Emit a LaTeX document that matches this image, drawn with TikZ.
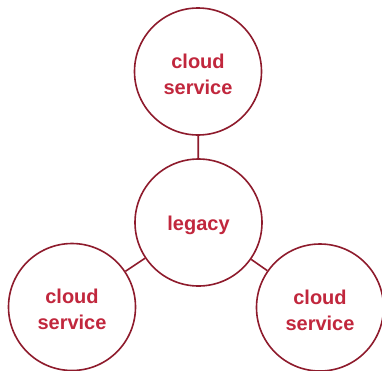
\documentclass[tikz,border=0pt]{standalone}
\usepackage{fontspec}
\setmainfont{Liberation Sans}
\definecolor{ringred}{HTML}{8E1B2C}
\definecolor{labelred}{HTML}{C1273D}
\begin{document}
\begin{tikzpicture}[x=1pt,y=-1pt,
  hub/.style={circle, draw=ringred, line width=1.6pt, minimum size=127pt, inner sep=0pt},
  caption/.style={text=labelred, font=\fontsize{20}{26}\selectfont\bfseries, align=center,
    inner sep=0pt, yshift=-2.5pt},
  link/.style={draw=ringred, line width=1.6pt}]
  \useasboundingbox (0,0) rectangle (382,370);
  \node[hub, label={[caption]center:cloud\\service}] (top) at (198,71.5) {};
  \node[hub, label={[caption]center:legacy}] (mid) at (198.5,222.5) {};
  \node[hub, label={[caption]center:cloud\\service}] (left) at (72,307) {};
  \node[hub, label={[caption]center:cloud\\service}] (right) at (320,307.5) {};
  \draw[link] (top) -- (mid);
  \draw[link] (mid) -- (left);
  \draw[link] (mid) -- (right);
\end{tikzpicture}
\end{document}
